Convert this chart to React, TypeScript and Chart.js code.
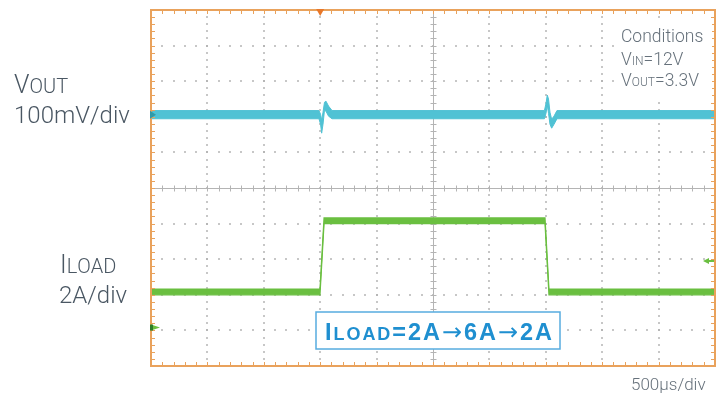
import React, { useEffect, useRef } from "react";
import { Chart, registerables } from "chart.js";

Chart.register(...registerables);

// Horizontal: 500 µs/div over 10 divisions
const US_PER_DIV = 500;
const DIVS_X = 10;
const DIVS_Y = 10;
const MINOR = 5;

// VOUT channel: deviation from nominal (mV), 100 mV/div, noise envelope
const voutTimeUs = [0, 1489, 1503, 1513, 1525, 1538, 1551, 1574, 1605, 3488, 3502, 3513, 3524, 3537, 3552, 3573, 3599, 5000];
const voutUpperMv = [11.5, 11.5, 1.4, -15.4, 7, 35, 38, 24, 11.5, 11.5, 32, 55, 44, 7, -13, -4, 11.5, 11.5];
const voutLowerMv = [-11.5, -11.5, -26.7, -52, -26.7, 12.6, 9.8, -4.2, -11.5, -11.5, 4, 27, 4, -27, -38, -27, -11.5, -11.5];
const VOUT_MV_PER_DIV = 100;
const VOUT_OFFSET_DIV = 2.06;

// ILOAD channel: load current (A), 2 A/div
const iloadTimeUs = [0, 1498, 1534, 3493, 3528, 5000];
const iloadAmps = [2, 2, 6, 6, 2, 2];
const ILOAD_NOISE_A = 0.16;
const ILOAD_A_PER_DIV = 2;
const ILOAD_OFFSET_DIV = -3.92;

// Trigger
const TRIGGER_TIME_US = 1500;
const TRIGGER_LEVEL_A = 3.74;

const VOUT_COLOR = "#50c2d4";
const ILOAD_COLOR = "#6abf40";
const FRAME_COLOR = "#e9a25c";
const LABEL_COLOR = "#4a5763";
const NOTE_COLOR = "#66717b";
const GRID_DOT = "rgba(175,175,175,0.7)";
const AXIS_COLOR = "#b4b4b4";
const BOX_BLUE = "#1f8fd0";
const LIGHT_FONT = "Roboto, 'Liberation Sans', sans-serif";
const BOLD_FONT = "'Liberation Sans', Arial, sans-serif";

type Run = { text: string; size: number; weight?: number; family?: string };

function runFont(r: Run, family: string) {
  return `${r.weight ?? 300} ${r.size}px ${r.family ?? family}`;
}

// Draws mixed-size text runs; with fitWidth, spreads the glyphs to span that width.
function drawRuns(
  ctx: CanvasRenderingContext2D,
  x: number,
  y: number,
  runs: Run[],
  family: string,
  color: string,
  fitWidth?: number
) {
  ctx.fillStyle = color;
  ctx.textAlign = "left";
  ctx.textBaseline = "alphabetic";
  let spacing = 0;
  if (fitWidth) {
    let total = 0;
    let chars = 0;
    for (const r of runs) {
      ctx.font = runFont(r, family);
      total += ctx.measureText(r.text).width;
      chars += [...r.text].length;
    }
    spacing = (fitWidth - total) / Math.max(1, chars - 1);
  }
  let cx = x;
  for (const r of runs) {
    ctx.font = runFont(r, family);
    for (const ch of [...r.text]) {
      ctx.fillText(ch, cx, y);
      cx += ctx.measureText(ch).width + spacing;
    }
  }
  return cx;
}

const voutPos = (mv: number) => VOUT_OFFSET_DIV + mv / VOUT_MV_PER_DIV;
const iloadPos = (a: number) => ILOAD_OFFSET_DIV + a / ILOAD_A_PER_DIV;

const scopeScreen = {
  id: "scopeScreen",
  beforeDatasetsDraw(chart: any) {
    const { ctx, chartArea: a, scales } = chart;
    const xs = scales.x;
    const ys = scales.y;
    ctx.save();
    // dotted graticule
    ctx.fillStyle = GRID_DOT;
    for (let i = 1; i < DIVS_X; i++) {
      if (i === DIVS_X / 2) continue;
      const x = Math.round(xs.getPixelForValue(i * US_PER_DIV));
      for (let j = 1; j < DIVS_Y * MINOR; j++) {
        const y = Math.round(ys.getPixelForValue(-DIVS_Y / 2 + j / MINOR));
        ctx.fillRect(x - 1, y - 1, 2, 2);
      }
    }
    for (let j = 1; j < DIVS_Y; j++) {
      if (j === DIVS_Y / 2) continue;
      const y = Math.round(ys.getPixelForValue(-DIVS_Y / 2 + j));
      for (let i = 1; i < DIVS_X * MINOR; i++) {
        const x = Math.round(xs.getPixelForValue((i * US_PER_DIV) / MINOR));
        ctx.fillRect(x - 1, y - 1, 2, 2);
      }
    }
    // centre axes with minor ticks
    const cx = Math.round(xs.getPixelForValue((DIVS_X / 2) * US_PER_DIV)) + 0.5;
    const cy = Math.round(ys.getPixelForValue(0)) + 0.5;
    ctx.strokeStyle = AXIS_COLOR;
    ctx.lineWidth = 1;
    ctx.beginPath();
    ctx.moveTo(a.left, cy);
    ctx.lineTo(a.right, cy);
    ctx.moveTo(cx, a.top);
    ctx.lineTo(cx, a.bottom);
    for (let i = 1; i < DIVS_X * MINOR; i++) {
      const x = Math.round(xs.getPixelForValue((i * US_PER_DIV) / MINOR)) + 0.5;
      ctx.moveTo(x, cy - 3);
      ctx.lineTo(x, cy + 3);
    }
    for (let j = 1; j < DIVS_Y * MINOR; j++) {
      const y = Math.round(ys.getPixelForValue(-DIVS_Y / 2 + j / MINOR)) + 0.5;
      ctx.moveTo(cx - 3, y);
      ctx.lineTo(cx + 3, y);
    }
    ctx.stroke();
    ctx.restore();
  },
  afterDatasetsDraw(chart: any) {
    const { ctx, chartArea: a, scales } = chart;
    const xs = scales.x;
    const ys = scales.y;
    ctx.save();

    // frame ticks
    ctx.strokeStyle = FRAME_COLOR;
    ctx.lineWidth = 1;
    ctx.beginPath();
    for (let i = 1; i < DIVS_X * MINOR; i++) {
      const x = Math.round(xs.getPixelForValue((i * US_PER_DIV) / MINOR)) + 0.5;
      ctx.moveTo(x, a.top);
      ctx.lineTo(x, a.top + 4);
      ctx.moveTo(x, a.bottom);
      ctx.lineTo(x, a.bottom - 4);
    }
    for (let j = 1; j < DIVS_Y * MINOR; j++) {
      const y = Math.round(ys.getPixelForValue(-DIVS_Y / 2 + j / MINOR)) + 0.5;
      ctx.moveTo(a.left, y);
      ctx.lineTo(a.left + 4, y);
      ctx.moveTo(a.right, y);
      ctx.lineTo(a.right - 4, y);
    }
    ctx.stroke();
    // frame
    ctx.lineWidth = 2;
    ctx.strokeRect(a.left, a.top, a.right - a.left, a.bottom - a.top);

    // trigger position marker
    const tx = xs.getPixelForValue(TRIGGER_TIME_US);
    ctx.fillStyle = "#e8782a";
    ctx.beginPath();
    ctx.moveTo(tx - 4, a.top - 1);
    ctx.lineTo(tx + 4, a.top - 1);
    ctx.lineTo(tx, a.top + 6);
    ctx.closePath();
    ctx.fill();

    // VOUT reference marker
    const vy = ys.getPixelForValue(VOUT_OFFSET_DIV);
    ctx.fillStyle = "#2f9aa8";
    ctx.beginPath();
    ctx.moveTo(a.left - 1, vy - 4);
    ctx.lineTo(a.left + 5, vy);
    ctx.lineTo(a.left - 1, vy + 4);
    ctx.closePath();
    ctx.fill();

    // ILOAD reference marker
    const iy = ys.getPixelForValue(ILOAD_OFFSET_DIV);
    ctx.fillStyle = ILOAD_COLOR;
    ctx.beginPath();
    ctx.moveTo(a.left, iy - 3);
    ctx.lineTo(a.left + 9, iy);
    ctx.lineTo(a.left, iy + 3);
    ctx.closePath();
    ctx.fill();
    ctx.fillStyle = "#2e7d2a";
    ctx.fillRect(a.left - 1, iy - 3, 3, 6);

    // trigger level marker
    const ly = ys.getPixelForValue(iloadPos(TRIGGER_LEVEL_A));
    ctx.fillStyle = ILOAD_COLOR;
    ctx.beginPath();
    ctx.moveTo(a.right - 12, ly);
    ctx.lineTo(a.right - 6, ly - 3);
    ctx.lineTo(a.right - 6, ly + 3);
    ctx.closePath();
    ctx.fill();
    ctx.fillRect(a.right - 7, ly - 1, 6, 2);

    // conditions panel
    ctx.fillStyle = "#ffffff";
    ctx.fillRect(614, 20, 98, 76);
    drawRuns(ctx, 621, 42, [{ text: "Conditions", size: 17.5 }], LIGHT_FONT, NOTE_COLOR);
    drawRuns(ctx, 621, 64.5, [{ text: "V", size: 17.5 }, { text: "IN", size: 12 }, { text: "=12V", size: 17.5 }], LIGHT_FONT, NOTE_COLOR);
    drawRuns(ctx, 621, 86, [{ text: "V", size: 17.5 }, { text: "OUT", size: 12 }, { text: "=3.3V", size: 17.5 }], LIGHT_FONT, NOTE_COLOR);

    // load step caption
    ctx.fillStyle = "#ffffff";
    ctx.fillRect(316, 312, 244, 37);
    ctx.strokeStyle = "#57acdf";
    ctx.lineWidth = 1.5;
    ctx.strokeRect(316, 312, 244, 37);
    drawRuns(
      ctx,
      325,
      339.5,
      [
        { text: "I", size: 23.5, weight: 700 },
        { text: "LOAD", size: 18, weight: 700 },
        { text: "=2A", size: 23.5, weight: 700 },
        { text: "→", size: 24, weight: 400, family: "'DejaVu Sans', sans-serif" },
        { text: "6A", size: 23.5, weight: 700 },
        { text: "→", size: 24, weight: 400, family: "'DejaVu Sans', sans-serif" },
        { text: "2A", size: 23.5, weight: 700 },
      ],
      BOLD_FONT,
      BOX_BLUE,
      227
    );

    ctx.restore();
  },
  afterDraw(chart: any) {
    const { ctx } = chart;
    ctx.save();
    drawRuns(ctx, 14, 93, [{ text: "V", size: 25 }, { text: "OUT", size: 20 }], LIGHT_FONT, LABEL_COLOR);
    drawRuns(ctx, 14, 123, [{ text: "100mV/div", size: 24 }], LIGHT_FONT, LABEL_COLOR);
    drawRuns(ctx, 60, 273, [{ text: "I", size: 25 }, { text: "LOAD", size: 20 }], LIGHT_FONT, LABEL_COLOR);
    drawRuns(ctx, 59, 303, [{ text: "2A/div", size: 24 }], LIGHT_FONT, LABEL_COLOR);
    drawRuns(ctx, 631, 390, [{ text: "500µs/div", size: 17 }], LIGHT_FONT, NOTE_COLOR);
    ctx.restore();
  },
};

export default function App() {
  const canvasRef = useRef<HTMLCanvasElement | null>(null);

  useEffect(() => {
    const canvas = canvasRef.current;
    if (!canvas) return;
    const chart = new Chart(canvas, {
      type: "line",
      data: {
        datasets: [
          {
            label: "VOUT+",
            data: voutTimeUs.map((t, i) => ({ x: t, y: voutPos(voutUpperMv[i]) })),
            borderColor: VOUT_COLOR,
            backgroundColor: VOUT_COLOR,
            borderWidth: 1,
            pointRadius: 0,
            tension: 0,
            fill: "+1",
          },
          {
            label: "VOUT-",
            data: voutTimeUs.map((t, i) => ({ x: t, y: voutPos(voutLowerMv[i]) })),
            borderColor: VOUT_COLOR,
            borderWidth: 1,
            pointRadius: 0,
            tension: 0,
            fill: false,
          },
          {
            label: "ILOAD+",
            data: iloadTimeUs.map((t, i) => ({ x: t, y: iloadPos(iloadAmps[i] + ILOAD_NOISE_A) })),
            borderColor: ILOAD_COLOR,
            backgroundColor: ILOAD_COLOR,
            borderWidth: 1.2,
            pointRadius: 0,
            tension: 0,
            fill: "+1",
          },
          {
            label: "ILOAD-",
            data: iloadTimeUs.map((t, i) => ({ x: t, y: iloadPos(iloadAmps[i] - ILOAD_NOISE_A) })),
            borderColor: ILOAD_COLOR,
            borderWidth: 1.2,
            pointRadius: 0,
            tension: 0,
            fill: false,
          },
        ],
      },
      options: {
        animation: false,
        responsive: false,
        maintainAspectRatio: false,
        devicePixelRatio: 1,
        layout: { padding: { left: 151, top: 10, right: 7, bottom: 28 } },
        plugins: { legend: { display: false }, tooltip: { enabled: false } },
        scales: {
          x: { type: "linear", min: 0, max: DIVS_X * US_PER_DIV, display: false },
          y: { type: "linear", min: -DIVS_Y / 2, max: DIVS_Y / 2, display: false },
        },
      },
      plugins: [scopeScreen],
    });
    return () => chart.destroy();
  }, []);

  return (
    <div style={{ position: "absolute", left: 0, top: 0, width: 722, height: 394, background: "#ffffff" }}>
      <canvas ref={canvasRef} width={722} height={394} style={{ display: "block", width: 722, height: 394 }} />
    </div>
  );
}
